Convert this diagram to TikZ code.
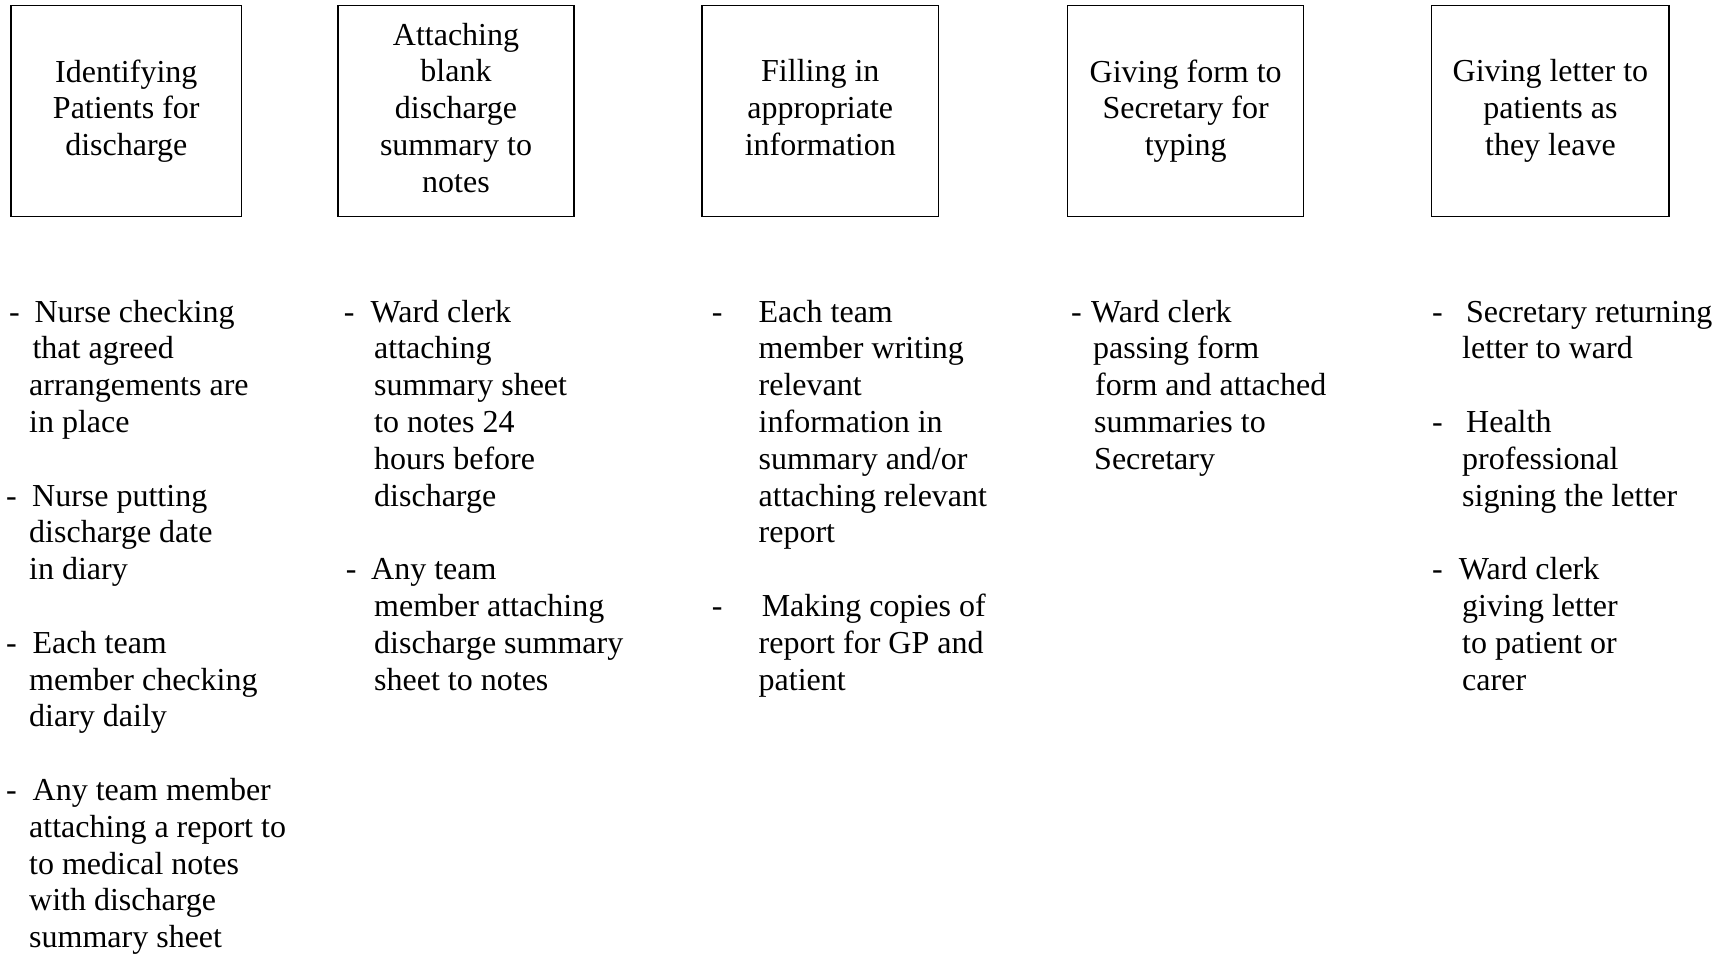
\documentclass[tikz,border=0pt]{standalone}
\usepackage{fontspec}
\setmainfont{Liberation Serif}
% a bulleted line: indent, dash column width, text
\newcommand\dl[3]{\hspace*{#1pt}\makebox[#2pt][l]{-}#3}
% a continuation line: indent, text
\newcommand\cl[2]{\hspace*{#1pt}#2}

\begin{document}
\begin{tikzpicture}[x=1pt,y=-1pt,
  stage/.style={draw, line width=1.3pt, inner sep=0pt, minimum height=211pt,
    align=center, font=\fontsize{32}{36.8}\selectfont},
  notes/.style={anchor=base west, inner sep=0pt,
    font=\fontsize{32}{36.8}\selectfont}]
\useasboundingbox (0,0) rectangle (1715,953);

% process stages
\node[stage, minimum width=230.8pt] (s1) at (126.3,111) {Identifying\\Patients for\\discharge};
\node[stage, minimum width=236pt]   (s2) at (456,111)   {Attaching\\blank\\discharge\\summary to\\notes\vphantom{g}};
\node[stage, minimum width=236.5pt] (s3) at (820.3,111) {Filling in\\appropriate\\information\vphantom{g}};
\node[stage, minimum width=236.2pt] (s4) at (1185.7,111){Giving form to\\Secretary for\\typing};
\node[stage, minimum width=237.2pt] (s5) at (1550.4,111){Giving letter to\\patients as\\they leave};

% tasks under each stage
\node[notes] (n1) at (6,322) {\begin{tabular}[t]{@{}l@{}}
\dl{3}{25.4}{Nurse checking}\\
\cl{26.4}{that agreed}\\
\cl{23}{arrangements are}\\
\cl{23}{in place}\\
\\
\dl{0}{26}{Nurse putting}\\
\cl{23}{discharge date}\\
\cl{23}{in diary}\\
\\
\dl{0}{26.5}{Each team}\\
\cl{23}{member checking}\\
\cl{23}{diary daily}\\
\\
\dl{0}{26.5}{Any team member}\\
\cl{23}{attaching a report to}\\
\cl{23}{to medical notes}\\
\cl{23}{with discharge}\\
\cl{23}{summary sheet}
\end{tabular}};

\node[notes] (n2) at (342,322) {\begin{tabular}[t]{@{}l@{}}
\dl{1.6}{26.9}{Ward clerk}\\
\cl{32}{attaching}\\
\cl{32}{summary sheet}\\
\cl{32}{to notes 24}\\
\cl{32}{hours before}\\
\cl{32}{discharge}\\
\\
\dl{3.6}{25.4}{Any team}\\
\cl{32}{member attaching}\\
\cl{32}{discharge summary}\\
\cl{32}{sheet to notes}
\end{tabular}};

\node[notes] (n3) at (711,322) {\begin{tabular}[t]{@{}l@{}}
\dl{0.6}{46.9}{Each team}\\
\cl{47.5}{member writing}\\
\cl{47.5}{relevant}\\
\cl{47.5}{information in}\\
\cl{47.5}{summary and/or}\\
\cl{47.5}{attaching relevant}\\
\cl{47.5}{report}\\
\\
\dl{0.6}{50}{Making copies of}\\
\cl{47.5}{report for GP and}\\
\cl{47.5}{patient}
\end{tabular}};

\node[notes] (n4) at (1071,322) {\begin{tabular}[t]{@{}l@{}}
\dl{0}{20}{Ward clerk}\\
\cl{22}{passing form}\\
\cl{24}{form and attached}\\
\cl{23}{summaries to}\\
\cl{23}{Secretary}
\end{tabular}};

\node[notes] (n5) at (1431,322) {\begin{tabular}[t]{@{}l@{}}
\dl{1}{34}{Secretary returning}\\
\cl{31}{letter to ward}\\
\\
\dl{1}{34}{Health}\\
\cl{31}{professional}\\
\cl{31}{signing the letter}\\
\\
\dl{1}{26.7}{Ward clerk}\\
\cl{31}{giving letter}\\
\cl{31}{to patient or}\\
\cl{31}{carer}
\end{tabular}};
\end{tikzpicture}
\end{document}
